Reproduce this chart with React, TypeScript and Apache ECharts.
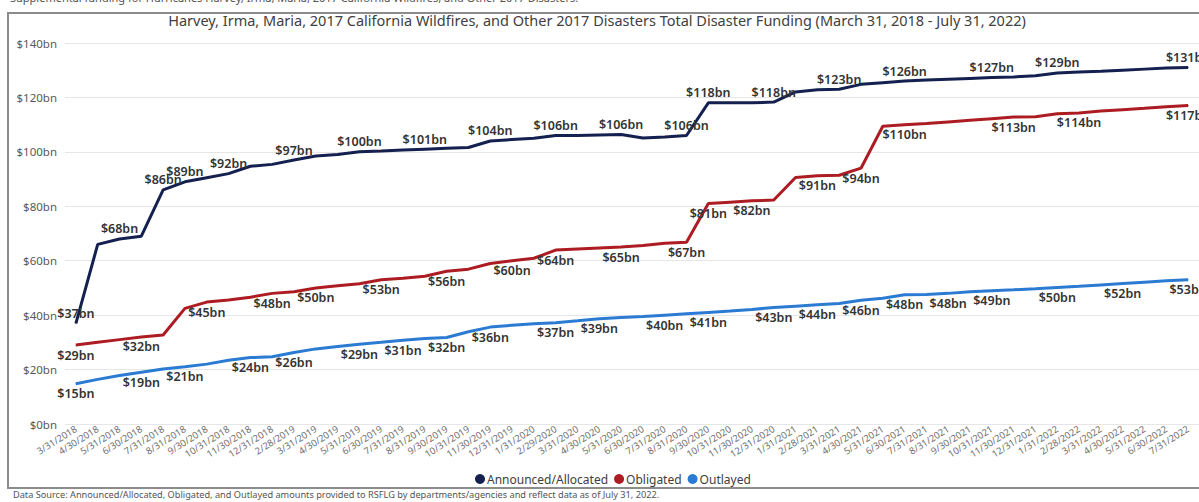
import React, { useEffect, useRef } from "react";
import * as echarts from "echarts";

const categories = [
  "3/31/2018", "4/30/2018", "5/31/2018", "6/30/2018", "7/31/2018", "8/31/2018", "9/30/2018", "10/31/2018", "11/30/2018", "12/31/2018",
  "2/28/2019", "3/31/2019", "4/30/2019", "5/31/2019", "6/30/2019", "7/31/2019", "8/31/2019", "9/30/2019", "10/31/2019", "11/30/2019", "12/31/2019",
  "1/31/2020", "2/29/2020", "3/31/2020", "4/30/2020", "5/31/2020", "6/30/2020", "7/31/2020", "8/31/2020", "9/30/2020", "10/31/2020", "11/30/2020", "12/31/2020",
  "1/31/2021", "2/28/2021", "3/31/2021", "4/30/2021", "5/31/2021", "6/30/2021", "7/31/2021", "8/31/2021", "9/30/2021", "10/31/2021", "11/30/2021", "12/31/2021",
  "1/31/2022", "2/28/2022", "3/31/2022", "4/30/2022", "5/31/2022", "6/30/2022", "7/31/2022",
];

const announced = [
  37, 66, 68, 69, 86, 89, 90.5, 92, 94.7, 95.4,
  97, 98.5, 99, 100, 100.3, 100.7, 101, 101.3, 101.6, 104, 104.5,
  105, 106, 106, 106.2, 106.4, 105.1, 105.5, 106, 118, 118, 118, 118.3,
  122, 122.8, 123, 124.8, 125.4, 126, 126.4, 126.7, 127, 127.3, 127.5, 128,
  129, 129.3, 129.6, 130, 130.4, 130.8, 131,
];
const obligated = [
  29, 30, 31, 32, 32.7, 42.5, 44.8, 45.6, 46.6, 48,
  48.6, 50, 50.8, 51.5, 53, 53.6, 54.3, 56.1, 56.9, 59, 60,
  60.9, 63.9, 64.3, 64.7, 65, 65.6, 66.4, 66.8, 81, 81.5, 82, 82.3,
  90.6, 91.2, 91.4, 94, 109.4, 110, 110.4, 111, 111.6, 112.2, 112.8, 112.9,
  114, 114.3, 115, 115.5, 116, 116.6, 117,
];
const outlayed = [
  14.8, 16.4, 17.8, 19, 20.2, 21, 22, 23.4, 24.4, 24.7,
  26.3, 27.6, 28.5, 29.3, 30, 30.8, 31.4, 31.8, 33.9, 35.6, 36.3,
  36.8, 37.2, 37.9, 38.7, 39.1, 39.5, 40, 40.5, 41, 41.5, 42.1, 42.8,
  43.3, 43.8, 44.3, 45.5, 46.2, 47.5, 47.6, 48, 48.6, 49, 49.3, 49.7,
  50.2, 50.6, 51.1, 51.6, 52.1, 52.6, 53,
];

const announcedLabelIdx = [0, 2, 4, 5, 7, 10, 13, 16, 19, 22, 25, 28, 29, 32, 35, 38, 42, 45, 51];
const obligatedLabelIdx = [0, 3, 6, 9, 11, 14, 17, 20, 22, 25, 28, 29, 31, 34, 36, 38, 43, 46, 51];
const outlayedLabelIdx = [0, 3, 5, 8, 10, 13, 15, 17, 19, 22, 24, 27, 29, 32, 34, 36, 38, 40, 42, 45, 48, 51];

const yTicks = { min: 0, max: 140, interval: 20 };

const seriesNames = ["Announced/Allocated", "Obligated", "Outlayed"];
const seriesColors = ["#14204f", "#ad1c22", "#2b7bd3"];

const TITLE =
  "Harvey, Irma, Maria, 2017 California Wildfires, and Other 2017 Disasters Total Disaster Funding (March 31, 2018 - July 31, 2022)";
const TOPLINE =
  "Supplemental funding for Hurricanes Harvey, Irma, Maria, 2017 California Wildfires, and Other 2017 Disasters.";
const FOOTNOTE =
  "Data Source: Announced/Allocated, Obligated, and Outlayed amounts provided to RSFLG by departments/agencies and reflect data as of July 31, 2022.";

const FONT = "'Noto Sans', 'Open Sans', sans-serif";

function buildData(values: number[], labelIdx: number[], position: "top" | "bottom") {
  const last = values.length - 1;
  return values.map((v, i) => {
    if (!labelIdx.includes(i)) return { value: v };
    const dx = i === 0 ? 14 : i === last ? -14 : 0;
    return {
      value: v,
      label: {
        show: true,
        position,
        distance: 3,
        offset: [dx, 0],
        formatter: "$" + Math.round(v) + "bn",
        fontFamily: FONT,
        fontSize: 12.5,
        fontWeight: 600,
        color: "#333333",
      },
    };
  });
}

export default function App() {
  const ref = useRef<HTMLDivElement>(null);

  useEffect(() => {
    if (!ref.current) return;
    const chart = echarts.init(ref.current, undefined, { renderer: "svg" });
    const allValues = [announced, obligated, outlayed];
    const allLabels = [announcedLabelIdx, obligatedLabelIdx, outlayedLabelIdx];
    const positions: ("top" | "bottom")[] = ["top", "bottom", "bottom"];

    chart.setOption({
      animation: false,
      backgroundColor: "#ffffff",
      textStyle: { fontFamily: FONT },
      grid: { left: 65, top: 43, width: 1146, height: 381, containLabel: false },
      legend: {
        data: seriesNames,
        left: 470,
        top: 468,
        icon: "circle",
        itemWidth: 10,
        itemHeight: 10,
        itemGap: 6,
        textStyle: { fontFamily: FONT, fontSize: 12, color: "#404040", padding: [0, 0, 0, -3] },
      },
      xAxis: {
        type: "category",
        data: categories,
        boundaryGap: true,
        axisLine: { show: false },
        axisTick: { show: false },
        axisLabel: {
          interval: 0,
          rotate: 32,
          margin: 4,
          fontSize: 9.5,
          color: "#707070",
          fontFamily: FONT,
        },
      },
      yAxis: {
        type: "value",
        min: yTicks.min,
        max: yTicks.max,
        interval: yTicks.interval,
        axisLine: { show: false },
        axisTick: { show: false },
        axisLabel: {
          margin: 8,
          fontSize: 11.5,
          color: "#595959",
          fontFamily: FONT,
          formatter: (v: number) => "$" + v + "bn",
        },
        splitLine: { lineStyle: { color: "#e6e6e6", width: 1 } },
      },
      series: seriesNames.map((name, k) => ({
        name,
        type: "line",
        data: buildData(allValues[k], allLabels[k], positions[k]),
        symbol: "circle",
        symbolSize: 1,
        showSymbol: true,
        lineStyle: { color: seriesColors[k], width: 3 },
        itemStyle: { color: seriesColors[k] },
        labelLayout: { hideOverlap: false },
        z: 3 - k,
      })),
      graphic: [
        {
          type: "rect",
          shape: { x: 8, y: 13, width: 1220, height: 475 },
          style: { fill: "none", stroke: "#8c8c8c", lineWidth: 2 },
          silent: true,
        },
        {
          type: "text",
          x: 10,
          y: -8,
          style: { text: TOPLINE, fontFamily: FONT, fontSize: 11, fill: "#555555" },
          silent: true,
        },
        {
          type: "text",
          x: 597,
          y: 12,
          style: { text: TITLE, textAlign: "center", fontFamily: FONT, fontSize: 14.5, fill: "#404040" },
          silent: true,
        },
        {
          type: "text",
          x: 13,
          y: 490,
          style: { text: FOOTNOTE, fontFamily: FONT, fontSize: 9.2, fill: "#555555" },
          silent: true,
        },
      ],
    });
    return () => chart.dispose();
  }, []);

  return (
    <div
      ref={ref}
      style={{ position: "fixed", left: 0, top: 0, width: 1199, height: 502, background: "#fff" }}
    />
  );
}
